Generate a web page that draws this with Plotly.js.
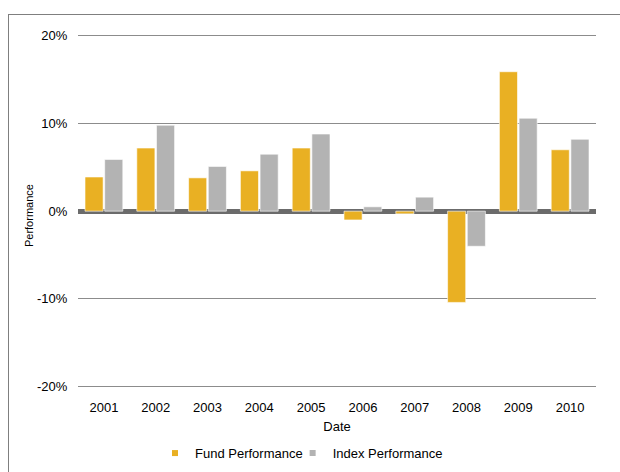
<!DOCTYPE html>
<html>
<head>
<meta charset="utf-8">
<script src="https://cdn.plot.ly/plotly-3.0.1.min.js"></script>
<style>
html,body{margin:0;padding:0;background:#fff;overflow:hidden;}
#wrap{position:relative;width:620px;height:472px;}
#chart{position:absolute;left:0;top:0;width:620px;height:472px;}
#frame{position:absolute;left:8px;top:14px;width:700px;height:600px;border:1px solid #7f7f7f;pointer-events:none;}
</style>
</head>
<body>
<div id="wrap"><div id="chart"></div><div id="frame"></div></div>
<script>
const years = ['2001','2002','2003','2004','2005','2006','2007','2008','2009','2010'];
const fundPerf = [3.9, 7.2, 3.8, 4.6, 7.2, -1.0, -0.3, -10.4, 15.9, 7.0];
const indexPerf = [5.9, 9.8, 5.1, 6.5, 8.8, 0.5, 1.6, -4.0, 10.6, 8.2];
const yTickVals = [-20, -10, 0, 10, 20];
const yTickText = ['-20%', '-10%', '0%', '10%', '20%'];
const seriesNames = ['Fund Performance', 'Index Performance'];
const fundColor = '#E9B023';
const indexColor = '#B3B3B3';

const font = {family: 'Liberation Sans, Arial, sans-serif', size: 13, color: '#000'};

const traces = [
  {type: 'bar', x: years, y: fundPerf, name: seriesNames[0], showlegend: false,
   marker: {color: fundColor, line: {color: 'rgba(255,255,255,0.6)', width: 1}}},
  {type: 'bar', x: years, y: indexPerf, name: seriesNames[1], showlegend: false,
   marker: {color: indexColor, line: {color: 'rgba(255,255,255,0.6)', width: 1}}},
  {type: 'scatter', mode: 'markers', x: [null], y: [null], name: seriesNames[0], legend: 'legend',
   marker: {symbol: 'square', size: 6, color: fundColor}, hoverinfo: 'skip'},
  {type: 'scatter', mode: 'markers', x: [null], y: [null], name: seriesNames[1], legend: 'legend2',
   marker: {symbol: 'square', size: 6, color: indexColor}, hoverinfo: 'skip'}
];

const legendBase = {
  orientation: 'h', xref: 'container', yref: 'container',
  xanchor: 'left', yanchor: 'middle', y: 0.04,
  font: font, itemwidth: 30, bgcolor: 'rgba(0,0,0,0)'
};

const layout = {
  width: 620, height: 472,
  margin: {l: 78, r: 24, t: 34, b: 81},
  paper_bgcolor: 'rgba(0,0,0,0)', plot_bgcolor: 'rgba(0,0,0,0)',
  font: font,
  barmode: 'group', bargap: 0.24, bargroupgap: 0.08,
  xaxis: {
    type: 'category', categoryarray: years, automargin: false,
    showgrid: false, zeroline: false, showline: false,
    ticks: 'outside', ticklen: 4, tickcolor: 'rgba(0,0,0,0)',
    tickfont: font,
    title: {text: 'Date', font: font, standoff: 8}
  },
  yaxis: {
    range: [-20.5, 20.2], automargin: false,
    tickvals: yTickVals, ticktext: yTickText,
    showgrid: true, gridcolor: '#8c8c8c', gridwidth: 1,
    zeroline: true, zerolinecolor: '#6b6b6b', zerolinewidth: 5,
    showline: false,
    ticks: 'outside', ticklen: 7, tickcolor: 'rgba(0,0,0,0)',
    tickfont: font
  },
  annotations: [{
    text: 'Performance', xref: 'paper', yref: 'paper', x: 0, y: 0.49,
    xshift: -49, textangle: -90, showarrow: false,
    xanchor: 'center', yanchor: 'middle',
    font: {family: font.family, size: 11, color: '#000'}
  }],
  legend: Object.assign({}, legendBase, {x: 0.25}),
  legend2: Object.assign({}, legendBase, {x: 0.472}),
  showlegend: true
};

Plotly.newPlot('chart', traces, layout, {displayModeBar: false, staticPlot: true});
</script>
</body>
</html>
